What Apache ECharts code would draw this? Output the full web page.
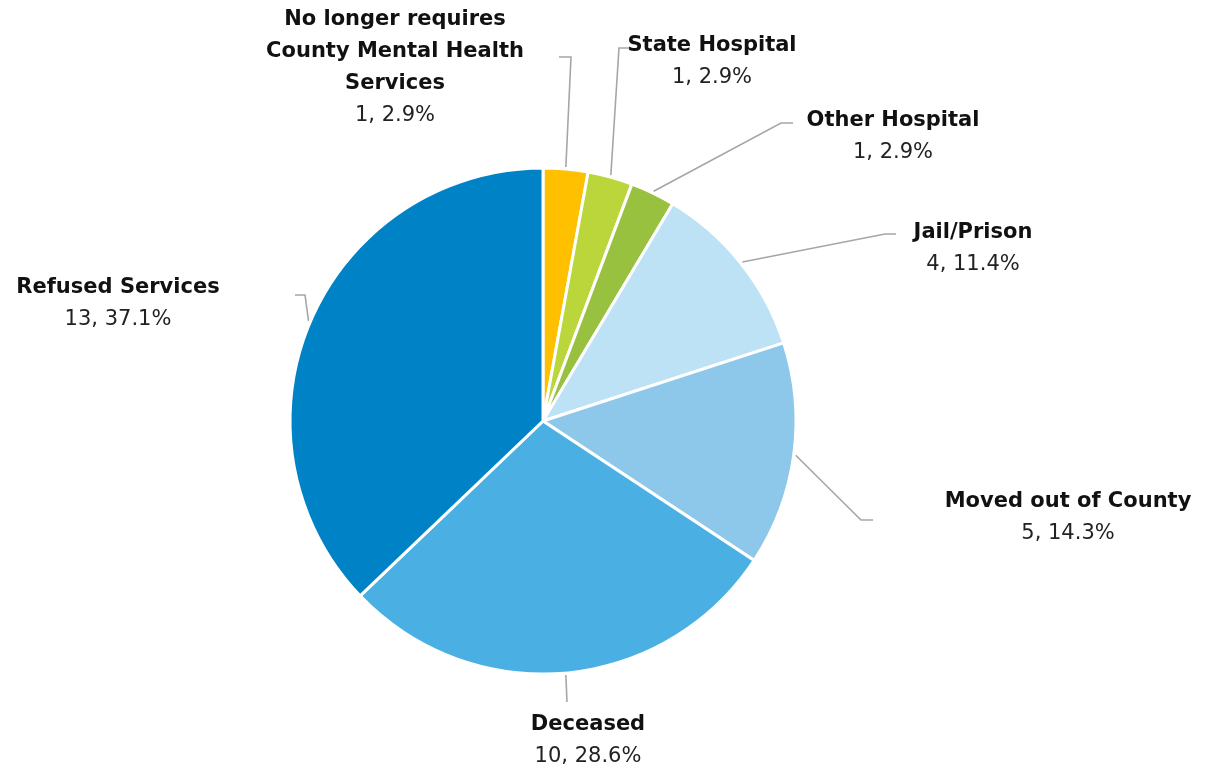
<!DOCTYPE html>
<html>
<head>
<meta charset="utf-8">
<script src="https://cdn.jsdelivr.net/npm/echarts@6/dist/echarts.min.js"></script>
<style>
  html, body { margin: 0; padding: 0; background: #fff; }
  #chart { width: 1216px; height: 775px; }
</style>
</head>
<body>
<div id="chart"></div>
<script>
// Discharge reasons, clockwise from twelve o'clock
const categories = [
  'No longer requires\nCounty Mental Health\nServices',
  'State Hospital',
  'Other Hospital',
  'Jail/Prison',
  'Moved out of County',
  'Deceased',
  'Refused Services'
];
const counts = [1, 1, 1, 4, 5, 10, 13];
const colors = ['#FFC000', '#BBD63A', '#97C13F', '#BDE1F5', '#8DC8EB', '#4AB0E4', '#0083C6'];

// Label placement: block centre, then the leader line's elbow and end
const labelPlacement = [
  { at: [395, 68],  elbow: [571, 57],  end: [559, 57] },
  { at: [712, 62],  elbow: [619, 48],  end: [631, 48] },
  { at: [893, 137], elbow: [781, 123], end: [793, 123] },
  { at: [973, 249], elbow: [885, 234], end: [896, 234] },
  { at: [1068, 518], elbow: [861, 520], end: [873, 520] },
  { at: [588, 741], elbow: null,       end: [567, 702] },
  { at: [118, 304], elbow: [305, 295], end: [295, 295] }
];

const CENTER = [543, 421];
const RADIUS = 253;
const total = counts.reduce((a, b) => a + b, 0);
const FONT = '"DejaVu Sans", "Noto Sans", sans-serif';

// Point on the rim at the middle of slice i (clockwise from the top)
function rimPoint(i) {
  let before = 0;
  for (let k = 0; k < i; k++) before += counts[k];
  const frac = (before + counts[i] / 2) / total;
  const a = frac * Math.PI * 2;
  const r = RADIUS + 2;
  return [CENTER[0] + r * Math.sin(a), CENTER[1] - r * Math.cos(a)];
}

const chart = echarts.init(document.getElementById('chart'), null, { renderer: 'canvas' });

chart.setOption({
  backgroundColor: '#ffffff',
  animation: false,
  series: [{
    type: 'pie',
    center: CENTER,
    radius: RADIUS,
    startAngle: 90,
    clockwise: true,
    data: categories.map((name, i) => ({
      name: name,
      value: counts[i],
      itemStyle: { color: colors[i] }
    })),
    itemStyle: { borderColor: '#ffffff', borderWidth: 3 },
    label: {
      show: true,
      position: 'outside',
      align: 'center',
      formatter: p => {
        const lines = p.name.split('\n').map(s => '{b|' + s + '}').join('\n');
        const pct = (p.value / total * 100).toFixed(1);
        return lines + '\n{v|' + p.value + ', ' + pct + '%}';
      },
      rich: {
        b: { fontFamily: FONT, fontWeight: 'bold', fontSize: 21, color: '#111', lineHeight: 32, align: 'center' },
        v: { fontFamily: FONT, fontSize: 21, color: '#222', lineHeight: 32, align: 'center' }
      }
    },
    labelLine: {
      show: true,
      length: 20,
      length2: 10,
      smooth: false,
      lineStyle: { color: '#A6A6A6', width: 1.6 }
    },
    labelLayout: params => {
      const i = params.dataIndex;
      const pl = labelPlacement[i];
      const pts = [rimPoint(i)];
      if (pl.elbow) pts.push(pl.elbow);
      pts.push(pl.end);
      if (pts.length === 2) pts.splice(1, 0, [(pts[0][0] + pts[1][0]) / 2, (pts[0][1] + pts[1][1]) / 2]);
      return {
        x: pl.at[0], y: pl.at[1],
        align: 'center', verticalAlign: 'middle',
        moveOverlap: false,
        labelLinePoints: pts
      };
    },
    emphasis: { disabled: true }
  }]
});
</script>
</body>
</html>
